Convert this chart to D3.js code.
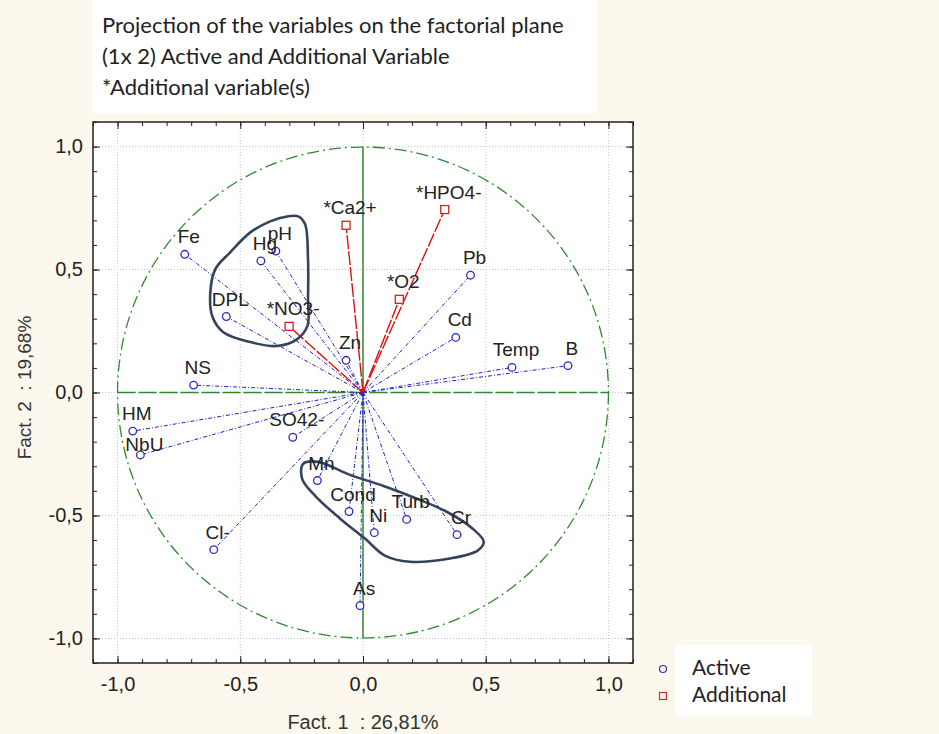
<!DOCTYPE html>
<html>
<head>
<meta charset="utf-8">
<script src="https://cdn.jsdelivr.net/npm/d3@7"></script>
<style>
  body { margin: 0; background: #fcf8ee; }
  svg { display: block; }
  .tick text { font-family: "Liberation Sans", Arial, sans-serif; font-size: 20px; fill: #222; }
</style>
</head>
<body>
<div id="chart"></div>
<script>
// active variables: name, Fact.1, Fact.2
const activeNames = ["Fe", "Hg", "pH", "DPL", "Zn", "NS", "HM", "NbU", "SO42-", "Mn", "Cond", "Ni", "Turb", "Cr", "Cl-", "As", "Pb", "Cd", "Temp", "B"];
const activeF1 = [-0.726, -0.416, -0.355, -0.557, -0.069, -0.690, -0.938, -0.907, -0.286, -0.186, -0.057, 0.046, 0.178, 0.383, -0.608, -0.012, 0.438, 0.378, 0.607, 0.835];
const activeF2 = [0.562, 0.535, 0.575, 0.309, 0.131, 0.030, -0.157, -0.254, -0.182, -0.358, -0.484, -0.570, -0.516, -0.578, -0.639, -0.867, 0.477, 0.224, 0.102, 0.109];

// additional (supplementary) variables
const addNames = ["*Ca2+", "*NO3-", "*HPO4-", "*O2"];
const addF1 = [-0.069, -0.301, 0.333, 0.148];
const addF2 = [0.680, 0.269, 0.744, 0.379];

const majorTicks = [-1, -0.5, 0, 0.5, 1];
const minorTicks = d3.range(-11, 12).map(i => i / 10);

// hand drawn outlines on the original figure (in factor units)
const groupA = [[-0.309, 0.716], [-0.264, 0.716], [-0.236, 0.684], [-0.224, 0.542], [-0.224, 0.379], [-0.226, 0.272],
  [-0.268, 0.217], [-0.350, 0.189], [-0.459, 0.205], [-0.569, 0.245], [-0.614, 0.310], [-0.622, 0.408],
  [-0.602, 0.501], [-0.541, 0.570], [-0.459, 0.651], [-0.378, 0.696]];
const groupB = [[-0.244, -0.290], [-0.183, -0.282], [-0.053, -0.335], [0.081, -0.379], [0.220, -0.432], [0.341, -0.485],
  [0.447, -0.554], [0.492, -0.607], [0.467, -0.643], [0.354, -0.675], [0.191, -0.688], [0.089, -0.663],
  [0.008, -0.594], [-0.093, -0.513], [-0.195, -0.420], [-0.248, -0.351]];

const W = 939, H = 734;
const frame = { left: 93, right: 633, top: 122, bottom: 663 };

const svg = d3.select("#chart").append("svg").attr("width", W).attr("height", H);
svg.append("rect").attr("width", W).attr("height", H).attr("fill", "#fcf8ee");

// title box
svg.append("rect").attr("x", 93).attr("y", 0).attr("width", 504).attr("height", 113).attr("fill", "#fff");
const titleLines = ["Projection of the variables on the factorial plane", "(1x 2) Active and Additional Variable", "*Additional variable(s)"];
svg.append("g").selectAll("text").data(titleLines).join("text")
  .attr("x", 102).attr("y", (d, i) => 33 + i * 31)
  .attr("font-family", "Lato, sans-serif").attr("font-size", 22).attr("fill", "#222")
  .style("white-space", "pre")
  .text(d => d);

const x = d3.scaleLinear().domain([-1.1, 1.1]).range([frame.left, frame.right]);
const y = d3.scaleLinear().domain([-1.1, 1.1]).range([frame.bottom, frame.top]);
const fmt = d => d.toFixed(1).replace(".", ",");

svg.append("rect")
  .attr("x", frame.left).attr("y", frame.top)
  .attr("width", frame.right - frame.left).attr("height", frame.bottom - frame.top)
  .attr("fill", "#fff");

// grid
const grid = svg.append("g").attr("stroke", "#c4c4c4").attr("stroke-dasharray", "1,2");
grid.selectAll(".gx").data(majorTicks).join("line")
  .attr("x1", d => x(d)).attr("x2", d => x(d)).attr("y1", frame.top).attr("y2", frame.bottom);
grid.selectAll(".gy").data(majorTicks).join("line")
  .attr("y1", d => y(d)).attr("y2", d => y(d)).attr("x1", frame.left).attr("x2", frame.right);

// unit circle and green axes
const green = "#2f8a2f";
svg.append("circle")
  .attr("cx", x(0)).attr("cy", y(0)).attr("r", x(1) - x(0))
  .attr("fill", "none").attr("stroke", green).attr("stroke-width", 1.3)
  .attr("stroke-dasharray", "12,4,2,4");
svg.append("line")
  .attr("x1", x(-1)).attr("x2", x(1)).attr("y1", y(0)).attr("y2", y(0))
  .attr("stroke", green).attr("stroke-width", 1.5).attr("stroke-dasharray", "18,3");
svg.append("line")
  .attr("x1", x(0)).attr("x2", x(0)).attr("y1", y(-1)).attr("y2", y(1))
  .attr("stroke", green).attr("stroke-width", 1.5);

const active = activeNames.map((n, i) => ({ name: n, f1: activeF1[i], f2: activeF2[i] }));
const additional = addNames.map((n, i) => ({ name: n, f1: addF1[i], f2: addF2[i] }));

// vectors
svg.append("g").selectAll("line").data(active).join("line")
  .attr("x1", x(0)).attr("y1", y(0))
  .attr("x2", d => x(d.f1)).attr("y2", d => y(d.f2))
  .attr("stroke", "#1f1fc8").attr("stroke-width", 1)
  .attr("stroke-dasharray", "4,2,1,2");
svg.append("g").selectAll("line").data(additional).join("line")
  .attr("x1", x(0)).attr("y1", y(0))
  .attr("x2", d => x(d.f1)).attr("y2", d => y(d.f2))
  .attr("stroke", "#e01010").attr("stroke-width", 1.4)
  .attr("stroke-dasharray", "14,2");

// outlines
const blob = d3.line().x(d => x(d[0])).y(d => y(d[1])).curve(d3.curveCatmullRomClosed.alpha(0.5));
svg.append("g").selectAll("path").data([groupA, groupB]).join("path")
  .attr("d", blob)
  .attr("fill", "none").attr("stroke", "#34445a").attr("stroke-width", 2.6);

// markers
svg.append("g").selectAll("circle").data(active).join("circle")
  .attr("cx", d => x(d.f1)).attr("cy", d => y(d.f2)).attr("r", 3.8)
  .attr("fill", "#fff").attr("stroke", "#2a2ac0").attr("stroke-width", 1.3);
svg.append("g").selectAll("rect").data(additional).join("rect")
  .attr("x", d => x(d.f1) - 4).attr("y", d => y(d.f2) - 4)
  .attr("width", 8).attr("height", 8)
  .attr("fill", "#fff").attr("stroke", "#d42020").attr("stroke-width", 1.3);

// labels (Hg/pH overlap as in the original)
const labelNudge = { "NbU": 7 };
svg.append("g").selectAll("text").data(active.concat(additional)).join("text")
  .attr("x", d => x(d.f1) + 4)
  .attr("y", d => y(d.f2) - 11 + (labelNudge[d.name] || 0))
  .attr("text-anchor", "middle")
  .attr("font-family", "Liberation Sans, Arial, sans-serif").attr("font-size", 19).attr("fill", "#222")
  .text(d => d.name);

// axes with inward ticks on all sides
function addAxis(axis, tx, ty, labels) {
  const g = svg.append("g").attr("transform", `translate(${tx},${ty})`);
  g.call(axis.tickValues(minorTicks).tickSize(-4).tickFormat(""));
  const g2 = svg.append("g").attr("transform", `translate(${tx},${ty})`);
  g2.call(axis.tickValues(majorTicks).tickSize(-7).tickFormat(labels ? fmt : ""));
  g.select(".domain").remove();
  g2.select(".domain").remove();
  g.selectAll("line").attr("stroke", "#222");
  g2.selectAll("line").attr("stroke", "#222");
  return g2;
}
addAxis(d3.axisBottom(x).tickPadding(14), 0, frame.bottom, true);
addAxis(d3.axisTop(x), 0, frame.top, false);
addAxis(d3.axisLeft(y).tickPadding(10), frame.left, 0, true);
addAxis(d3.axisRight(y), frame.right, 0, false);

svg.append("rect")
  .attr("x", frame.left).attr("y", frame.top)
  .attr("width", frame.right - frame.left).attr("height", frame.bottom - frame.top)
  .attr("fill", "none").attr("stroke", "#222").attr("stroke-width", 1.5);

// axis titles
svg.append("text")
  .attr("x", x(0)).attr("y", 729).attr("text-anchor", "middle")
  .attr("font-family", "Liberation Sans, Arial, sans-serif").attr("font-size", 20).attr("fill", "#333")
  .style("white-space", "pre")
  .text("Fact. 1  : 26,81%");
svg.append("text")
  .attr("transform", `translate(31,${y(0) - 5}) rotate(-90)`).attr("text-anchor", "middle")
  .attr("font-family", "Liberation Sans, Arial, sans-serif").attr("font-size", 19).attr("fill", "#333")
  .style("white-space", "pre")
  .text("Fact. 2  : 19,68%");

// legend
svg.append("rect").attr("x", 675).attr("y", 645).attr("width", 137).attr("height", 71).attr("fill", "#fff");
const legendItems = ["Active", "Additional"];
const lg = svg.append("g").selectAll("g").data(legendItems).join("g")
  .attr("transform", (d, i) => `translate(663,${669 + i * 27})`);
lg.each(function (d, i) {
  const g = d3.select(this);
  if (i === 0) {
    g.append("circle").attr("r", 3.5).attr("fill", "none").attr("stroke", "#3030b8").attr("stroke-width", 1.2);
  } else {
    g.append("rect").attr("x", -3.5).attr("y", -3.5).attr("width", 7).attr("height", 7)
      .attr("fill", "none").attr("stroke", "#c83030").attr("stroke-width", 1.2);
  }
});
lg.append("text").attr("x", 29).attr("y", 6)
  .attr("font-family", "Lato, sans-serif").attr("font-size", 21).attr("fill", "#222")
  .text(d => d);
</script>
</body>
</html>
